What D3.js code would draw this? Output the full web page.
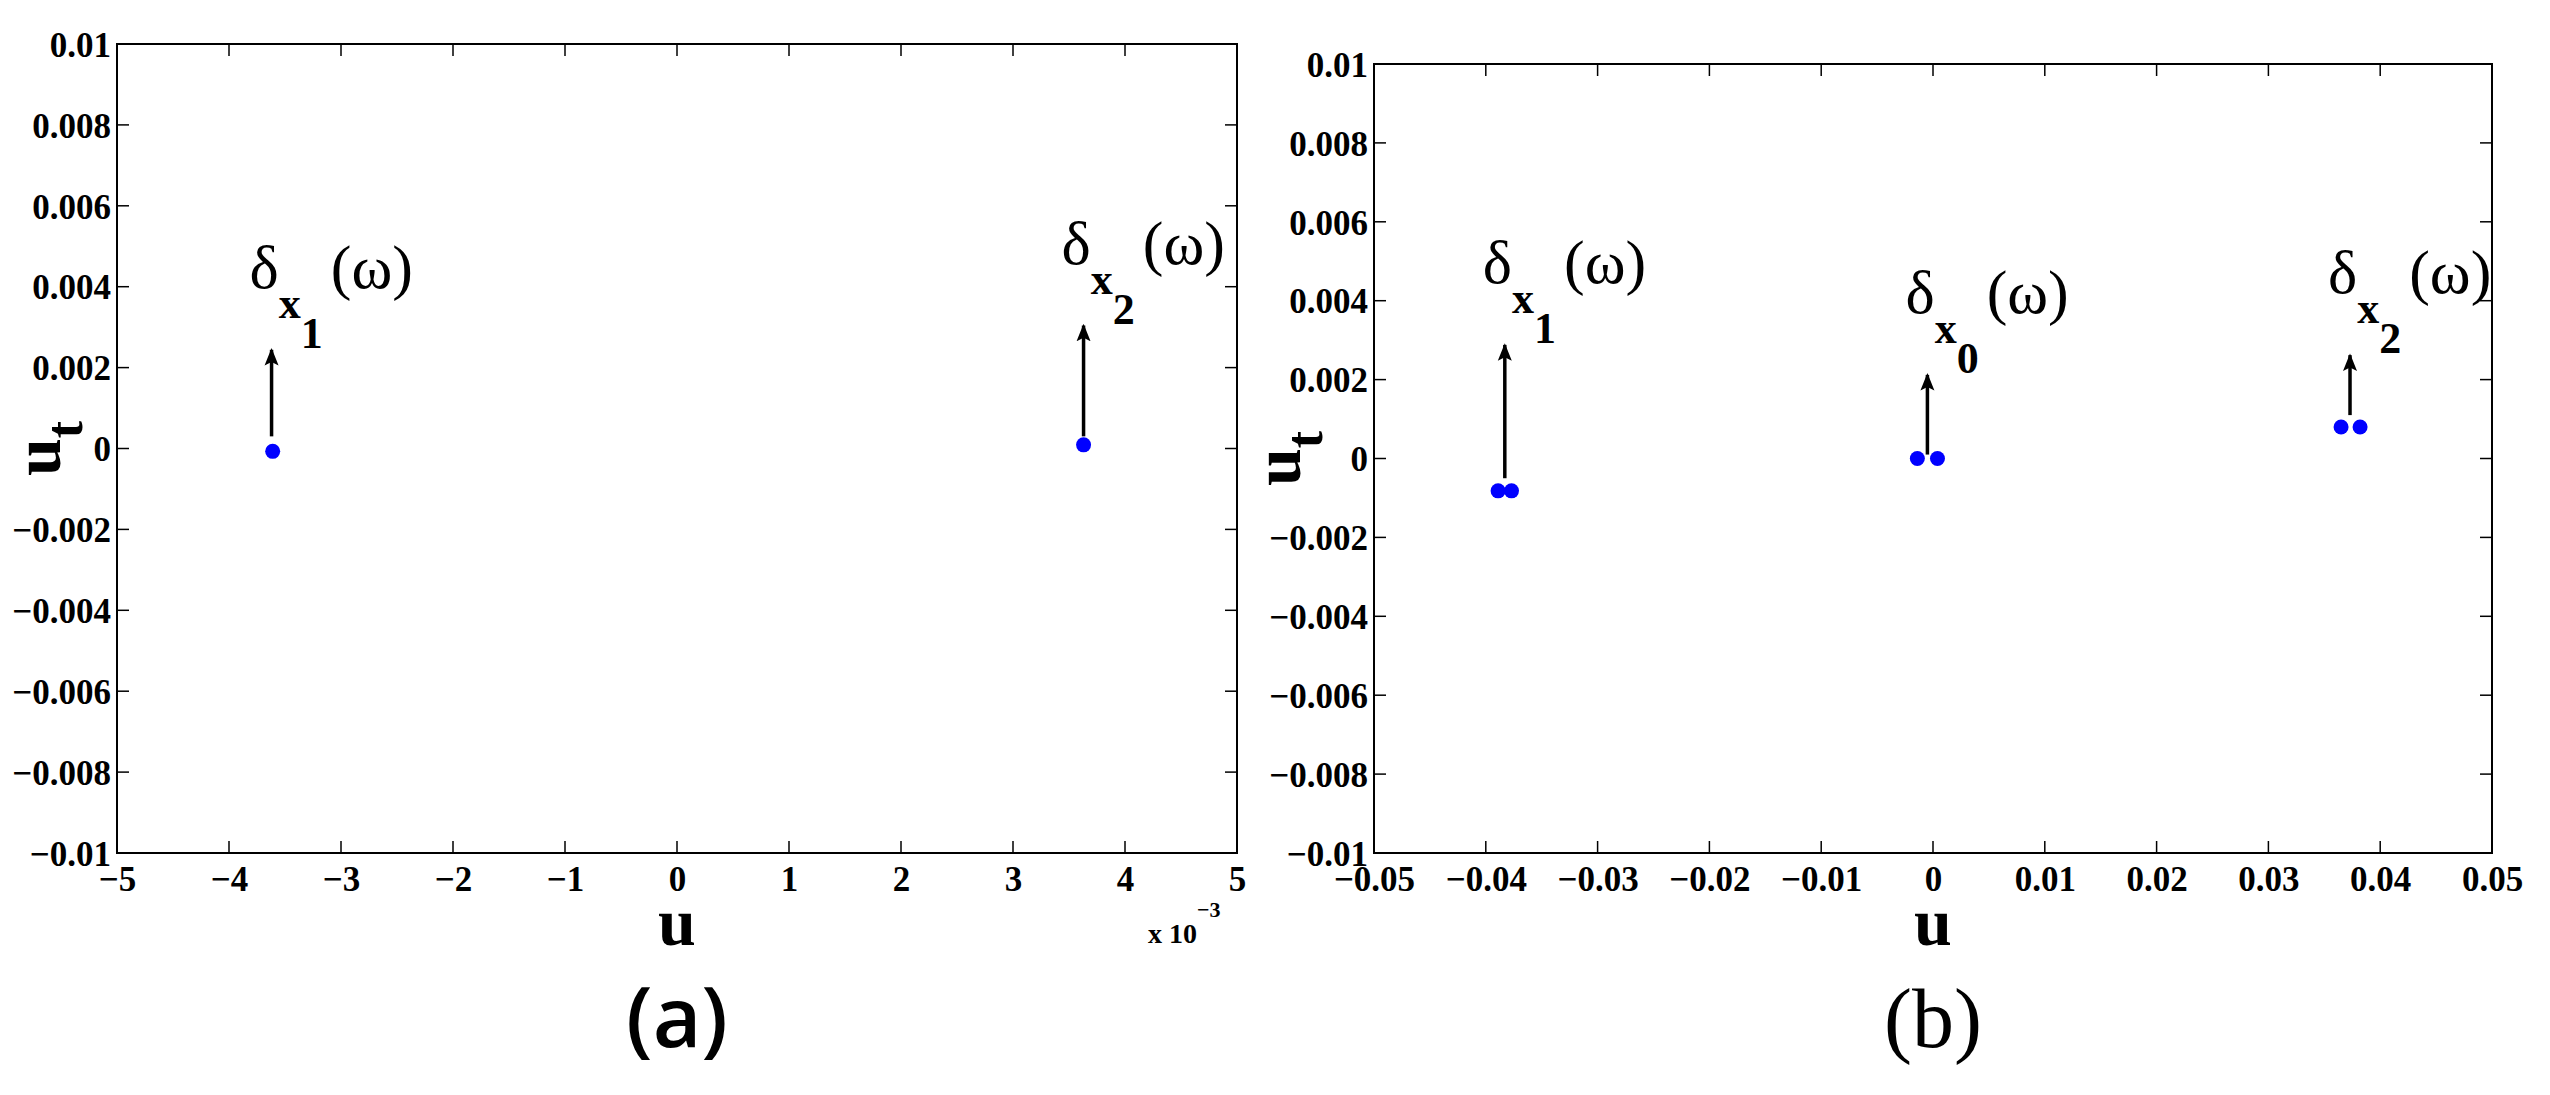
<!DOCTYPE html>
<html><head><meta charset="utf-8">
<script src="https://cdn.jsdelivr.net/npm/d3@7"></script>
<style>body{margin:0;background:#fff}</style></head>
<body><svg id="c" width="2550" height="1095"></svg>
<script>
// Panel (a): x in units of 1e-3
const xTicksA = [-5,-4,-3,-2,-1,0,1,2,3,4,5];
const yTicks = [-0.01,-0.008,-0.006,-0.004,-0.002,0,0.002,0.004,0.006,0.008,0.01];
const pointsA_u = [-3.61, 3.63];
const pointsA_ut = [-0.00007, 0.00009];
const arrowsA = [{u:-3.62, y0:0.0003, y1:0.00244, sub:"1"},{u:3.63, y0:0.0003, y1:0.00304, sub:"2"}];
// Panel (b)
const xTicksB = [-0.05,-0.04,-0.03,-0.02,-0.01,0,0.01,0.02,0.03,0.04,0.05];
const pointsB_u = [-0.0389,-0.0377,-0.0014,0.0004,0.0365,0.0382];
const pointsB_ut = [-0.00082,-0.00082,0,0,0.0008,0.0008];
const arrowsB = [{u:-0.0383, y0:-0.0005, y1:0.00288, sub:"1"},{u:-0.0005, y0:0.0001, y1:0.00212, sub:"0"},{u:0.0373, y0:0.0011, y1:0.00262, sub:"2"}];

const svg = d3.select("#c");
const defs = svg.append("defs");
defs.append("marker").attr("id","ah").attr("viewBox","0 0 10 10").attr("refX",9).attr("refY",5)
 .attr("markerWidth",5).attr("markerHeight",5).attr("markerUnits","strokeWidth").attr("orient","auto")
 .append("path").attr("d","M0,1 L10,5 L0,9 L2,5 Z").attr("fill","#000");

const serif = "'Liberation Serif', 'DejaVu Serif', serif";
const fmtY = v => v===0 ? "0" : (v<0?"\u2212":"") + String(Math.abs(+v.toFixed(3)));
const fmtX = v => v===0 ? "0" : (v<0?"\u2212":"") + String(Math.abs(+v.toFixed(2)));

function panel(o){
  const x = d3.scaleLinear().domain(o.xd).range([o.l,o.r]);
  const y = d3.scaleLinear().domain([-0.01,0.01]).range([o.b,o.t]);
  const g = svg.append("g");
  const tl = 12;
  const ax = g.append("g").attr("transform",`translate(0,${o.b})`)
    .call(d3.axisBottom(x).tickValues(o.xt).tickSize(0).tickFormat(o.fx));
  const ay = g.append("g").attr("transform",`translate(${o.l},0)`)
    .call(d3.axisLeft(y).tickValues(yTicks).tickSize(0).tickFormat(fmtY));
  [ax,ay].forEach(a=>{
    a.select(".domain").remove();
    a.selectAll("text").attr("font-family",serif).attr("font-weight","bold").attr("font-size",35).attr("fill","#000");
  });
  ax.selectAll("text").attr("y",8).attr("dy","0.85em");
  ay.selectAll("text").attr("x",-6).attr("dy","0.35em");
  g.append("rect").attr("x",o.l).attr("y",o.t).attr("width",o.r-o.l).attr("height",o.b-o.t)
   .attr("fill","none").attr("stroke","#000").attr("stroke-width",2);
  o.xt.slice(1,-1).forEach(v=>{
    g.append("line").attr("x1",x(v)).attr("x2",x(v)).attr("y1",o.b).attr("y2",o.b-tl).attr("stroke","#000").attr("stroke-width",1.5);
    g.append("line").attr("x1",x(v)).attr("x2",x(v)).attr("y1",o.t).attr("y2",o.t+tl).attr("stroke","#000").attr("stroke-width",1.5);
  });
  yTicks.slice(1,-1).forEach(v=>{
    g.append("line").attr("y1",y(v)).attr("y2",y(v)).attr("x1",o.l).attr("x2",o.l+tl).attr("stroke","#000").attr("stroke-width",1.5);
    g.append("line").attr("y1",y(v)).attr("y2",y(v)).attr("x1",o.r).attr("x2",o.r-tl).attr("stroke","#000").attr("stroke-width",1.5);
  });
  o.arrows.forEach(a=>{
    g.append("line").attr("x1",x(a.u)).attr("x2",x(a.u)).attr("y1",y(a.y0)).attr("y2",y(a.y1))
     .attr("stroke","#000").attr("stroke-width",3.5).attr("marker-end","url(#ah)");
    const tx = x(a.u)-22, ty = y(a.y1)-62;
    const t = g.append("text").attr("x",tx).attr("y",ty).attr("font-family",serif).attr("fill","#000");
    t.append("tspan").attr("font-size",62).text("δ");
    t.append("tspan").attr("font-size",44).attr("font-weight","bold").attr("dy",30).text("x");
    t.append("tspan").attr("font-size",44).attr("font-weight","bold").attr("dy",30).text(a.sub);
    t.append("tspan").attr("font-size",62).attr("dy",-60).attr("dx",8).text("(ω)");
  });
  g.selectAll("circle.p").data(o.pu).join("circle").attr("cx",d=>x(d)).attr("cy",(d,i)=>y(o.pv[i]))
   .attr("r",7.5).attr("fill","#0000ff");
  g.append("text").attr("x",(o.l+o.r)/2).attr("y",945).attr("text-anchor","middle")
   .attr("font-family",serif).attr("font-weight","bold").attr("font-size",68).text("u");
  const yl = g.append("text").attr("transform",`translate(${o.ylx},${(o.t+o.b)/2}) rotate(-90)`)
   .attr("text-anchor","middle").attr("font-family",serif).attr("font-weight","bold").attr("font-size",68);
  yl.append("tspan").text("u"); yl.append("tspan").attr("font-size",52).attr("dy",22).text("t");
  g.append("text").attr("x",(o.l+o.r)/2).attr("y",1047).attr("text-anchor","middle")
   .attr("font-family",o.capFont).attr("font-weight",o.capW).attr("font-size",84).text(o.cap);
}

panel({l:117,r:1237,t:44,b:853,ylx:60,xd:[-5,5],xt:xTicksA,fx:fmtX,arrows:arrowsA,pu:pointsA_u,pv:pointsA_ut,cap:"(a)",capFont:"'Open Sans','Noto Sans',sans-serif",capW:600});
panel({l:1374,r:2492,t:64,b:853,ylx:1300,xd:[-0.05,0.05],xt:xTicksB,fx:fmtX,arrows:arrowsB,pu:pointsB_u,pv:pointsB_ut,cap:"(b)",capFont:serif,capW:400});

const e = svg.append("text").attr("x",1148).attr("y",943).attr("font-family",serif).attr("font-weight","bold").attr("font-size",28);
e.append("tspan").text("x 10");
e.append("tspan").attr("font-size",22).attr("dy",-26).text("\u22123");
</script></body></html>
